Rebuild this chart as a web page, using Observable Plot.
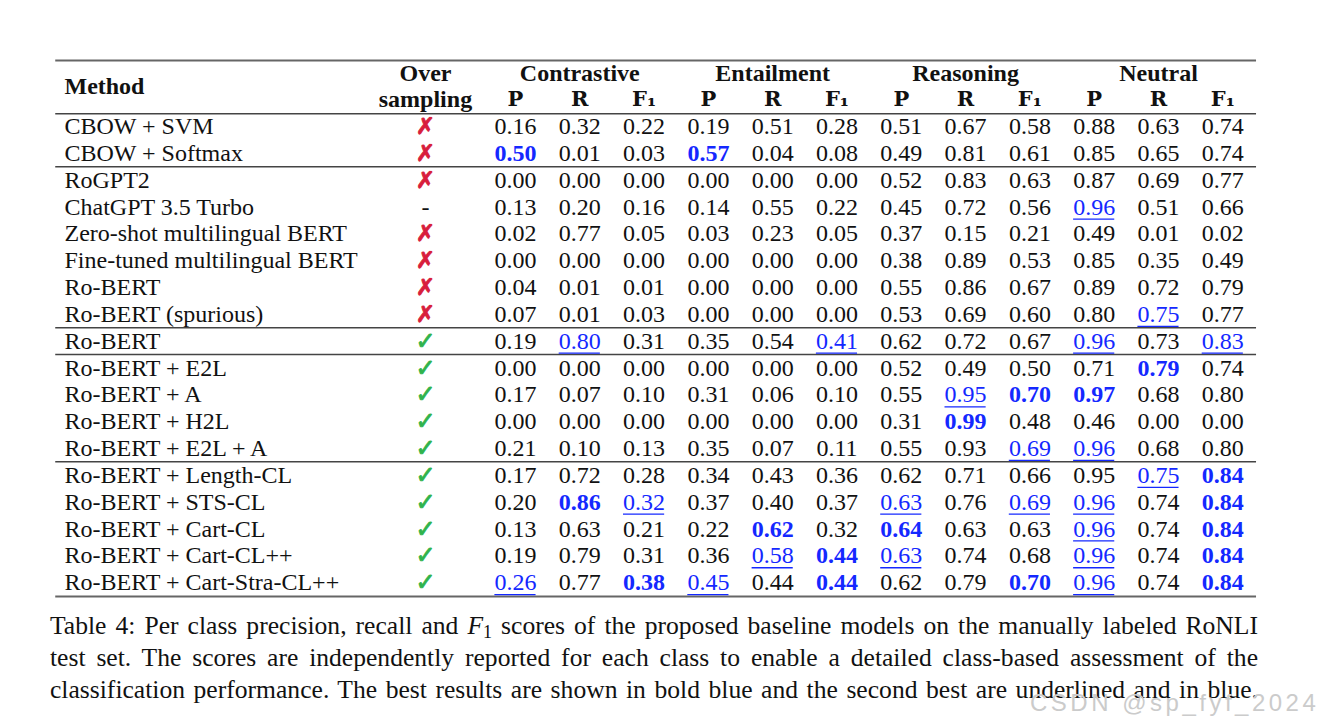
<!DOCTYPE html>
<html><head><meta charset="utf-8">
<script src="https://cdn.jsdelivr.net/npm/d3@7"></script>
<script src="https://cdn.jsdelivr.net/npm/@observablehq/plot@0.6"></script>
<style>
body{margin:0;background:#fff;position:relative;width:1324px;height:728px;overflow:hidden}
#cap{font-family:"Liberation Serif","Times New Roman",serif;font-size:25.6px;line-height:32px;text-align:justify;text-align-last:justify;width:1208px;margin:6px 0 0 50px;color:#111;white-space:nowrap}
#cap sub{font-size:18px;line-height:0;vertical-align:-4px}
#wm{position:absolute;left:1030px;top:689px;font-family:"Liberation Sans",sans-serif;font-size:24px;color:#cbcbcb;letter-spacing:3.5px}
</style></head>
<body>
<div id="chart"></div>
<div id="cap">Table 4: Per class precision, recall and <i>F</i><sub>1</sub> scores of the proposed baseline models on the manually labeled RoNLI<br>test set. The scores are independently reported for each class to enable a detailed class-based assessment of the<br>classification performance. The best results are shown in bold blue and the second best are underlined and in blue.</div>
<div id="wm">CSDN @sp_fyf_2024</div>
<script>
// ---- data ----
const methods = ["CBOW + SVM","CBOW + Softmax","RoGPT2","ChatGPT 3.5 Turbo","Zero-shot multilingual BERT","Fine-tuned multilingual BERT","Ro-BERT","Ro-BERT (spurious)","Ro-BERT","Ro-BERT + E2L","Ro-BERT + A","Ro-BERT + H2L","Ro-BERT + E2L + A","Ro-BERT + Length-CL","Ro-BERT + STS-CL","Ro-BERT + Cart-CL","Ro-BERT + Cart-CL++","Ro-BERT + Cart-Stra-CL++"];
const oversampling = ["no","no","no","na","no","no","no","no","yes","yes","yes","yes","yes","yes","yes","yes","yes","yes"];
const classes = ["Contrastive","Entailment","Reasoning","Neutral"];
const metrics = ["P","R","F₁"];
const contrastiveP  = [0.16,0.50,0.00,0.13,0.02,0.00,0.04,0.07,0.19,0.00,0.17,0.00,0.21,0.17,0.20,0.13,0.19,0.26];
const contrastiveR  = [0.32,0.01,0.00,0.20,0.77,0.00,0.01,0.01,0.80,0.00,0.07,0.00,0.10,0.72,0.86,0.63,0.79,0.77];
const contrastiveF1 = [0.22,0.03,0.00,0.16,0.05,0.00,0.01,0.03,0.31,0.00,0.10,0.00,0.13,0.28,0.32,0.21,0.31,0.38];
const entailmentP   = [0.19,0.57,0.00,0.14,0.03,0.00,0.00,0.00,0.35,0.00,0.31,0.00,0.35,0.34,0.37,0.22,0.36,0.45];
const entailmentR   = [0.51,0.04,0.00,0.55,0.23,0.00,0.00,0.00,0.54,0.00,0.06,0.00,0.07,0.43,0.40,0.62,0.58,0.44];
const entailmentF1  = [0.28,0.08,0.00,0.22,0.05,0.00,0.00,0.00,0.41,0.00,0.10,0.00,0.11,0.36,0.37,0.32,0.44,0.44];
const reasoningP    = [0.51,0.49,0.52,0.45,0.37,0.38,0.55,0.53,0.62,0.52,0.55,0.31,0.55,0.62,0.63,0.64,0.63,0.62];
const reasoningR    = [0.67,0.81,0.83,0.72,0.15,0.89,0.86,0.69,0.72,0.49,0.95,0.99,0.93,0.71,0.76,0.63,0.74,0.79];
const reasoningF1   = [0.58,0.61,0.63,0.56,0.21,0.53,0.67,0.60,0.67,0.50,0.70,0.48,0.69,0.66,0.69,0.63,0.68,0.70];
const neutralP      = [0.88,0.85,0.87,0.96,0.49,0.85,0.89,0.80,0.96,0.71,0.97,0.46,0.96,0.95,0.96,0.96,0.96,0.96];
const neutralR      = [0.63,0.65,0.69,0.51,0.01,0.35,0.72,0.75,0.73,0.79,0.68,0.00,0.68,0.75,0.74,0.74,0.74,0.74];
const neutralF1     = [0.74,0.74,0.77,0.66,0.02,0.49,0.79,0.77,0.83,0.74,0.80,0.00,0.80,0.84,0.84,0.84,0.84,0.84];
// best (bold blue) and second best (underlined blue): [row, column index]
const best   = [[1,0],[14,1],[17,2],[1,3],[15,4],[16,5],[17,5],[15,6],[11,7],[10,8],[17,8],[10,9],[9,10],[13,11],[14,11],[15,11],[16,11],[17,11]];
const second = [[17,0],[8,1],[14,2],[17,3],[16,4],[8,5],[14,6],[16,6],[10,7],[12,8],[14,8],[3,9],[8,9],[12,9],[14,9],[15,9],[16,9],[17,9],[7,10],[13,10],[8,11]];
const groupBreaks = [1.5, 7.5, 8.5, 12.5];

// ---- layout (column units / row units) ----
const L = {methodX: -7.014, overX: -1.4, ruleX1: -7.15, ruleX2: 11.525, topRule: -2.46, headRule: -0.48, bottomRule: 17.52};
const valueCols = [contrastiveP,contrastiveR,contrastiveF1,entailmentP,entailmentR,entailmentF1,reasoningP,reasoningR,reasoningF1,neutralP,neutralR,neutralF1];
const key = (r,c) => r + "-" + c;
const bestSet = new Set(best.map(([r,c]) => key(r,c)));
const secondSet = new Set(second.map(([r,c]) => key(r,c)));
const cells = [];
valueCols.forEach((arr, c) => arr.forEach((v, r) => cells.push({row: r, col: c, text: v.toFixed(2), kind: bestSet.has(key(r,c)) ? "best" : secondSet.has(key(r,c)) ? "second" : "plain"})));
const subHeads = valueCols.map((_, c) => ({col: c, text: metrics[c % 3]}));
const groupHeads = classes.map((t, i) => ({col: i*3 + 1, text: t}));
const methodRows = methods.map((m, i) => ({row: i, text: m}));
const overRows = oversampling.map((o, i) => ({row: i, kind: o}));
const font = "Liberation Serif, Times New Roman, serif";
const FS = 24;
const blue = "#1428ff";

const chart = Plot.plot({
  width: 1324, height: 604, margin: 0,
  x: {type: "linear", domain: [-8.009, 12.582], range: [0, 1324], axis: null},
  y: {type: "linear", domain: [-4.698, 17.82], range: [0, 604], axis: null},
  marks: [
    Plot.ruleY([L.topRule, L.bottomRule], {x1: L.ruleX1, x2: L.ruleX2, stroke: "#666", strokeWidth: 2}),
    Plot.ruleY([L.headRule, ...groupBreaks], {x1: L.ruleX1, x2: L.ruleX2, stroke: "#444", strokeWidth: 1.5}),
    Plot.text(["Method"], {x: L.methodX, y: -1.5, text: d => d, textAnchor: "start", fontFamily: font, fontSize: FS, fontWeight: "bold", fill: "#111"}),
    Plot.text([{y: -2, t: "Over"}, {y: -1, t: "sampling"}], {x: L.overX, y: "y", text: "t", fontFamily: font, fontSize: FS, fontWeight: "bold", fill: "#111"}),
    Plot.text(groupHeads, {x: "col", y: -2, text: "text", fontFamily: font, fontSize: FS, fontWeight: "bold", fill: "#111"}),
    Plot.text(subHeads, {x: "col", y: -1, text: "text", fontFamily: "DejaVu Serif", fontSize: 21, fontWeight: "bold", fill: "#111"}),
    Plot.text(methodRows, {x: L.methodX, y: "row", text: "text", textAnchor: "start", fontFamily: font, fontSize: FS, fill: "#111"}),
    Plot.text(overRows.filter(d => d.kind === "no"), {x: L.overX, y: "row", text: () => "✗", fontFamily: "DejaVu Sans", fontSize: 23, fill: "#d81e3c", stroke: "#d81e3c", strokeWidth: 0.9}),
    Plot.text(overRows.filter(d => d.kind === "yes"), {x: L.overX, y: "row", text: () => "✓", fontFamily: "DejaVu Sans", fontSize: 24, fill: "#2fb34c", stroke: "#2fb34c", strokeWidth: 0.9}),
    Plot.text(overRows.filter(d => d.kind === "na"), {x: L.overX, y: "row", text: () => "-", fontFamily: font, fontSize: FS, fill: "#111"}),
    Plot.text(cells.filter(d => d.kind === "plain"), {x: "col", y: "row", text: "text", fontFamily: font, fontSize: FS, fill: "#111"}),
    Plot.text(cells.filter(d => d.kind === "best"), {x: "col", y: "row", text: "text", fontFamily: font, fontSize: FS, fontWeight: "bold", fill: blue}),
    Plot.text(cells.filter(d => d.kind === "second"), {x: "col", y: "row", text: "text", fontFamily: font, fontSize: FS, fill: blue}),
    Plot.ruleY(cells.filter(d => d.kind === "second"), {y: d => d.row + 0.45, x1: d => d.col - 0.32, x2: d => d.col + 0.32, stroke: blue, strokeWidth: 1.3})
  ]
});
document.getElementById("chart").append(chart);
</script>
</body></html>
